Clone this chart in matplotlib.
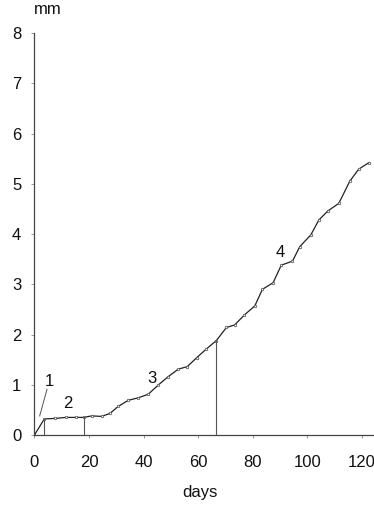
import matplotlib
matplotlib.use("Agg")
import matplotlib.pyplot as plt

plt.rcParams["font.family"] = ["Liberation Sans", "DejaVu Sans"]

# growth measurements (mm) against time (days)
days = [0, 3.6, 7.5, 11.5, 15.3, 18.0, 21.0, 24.6, 27.7, 30.7, 34.4, 38.0,
        41.7, 45.3, 49.0, 52.7, 56.0, 59.5, 63.0, 66.7, 70.4, 73.4, 77.0,
        80.8, 83.6, 87.5, 90.5, 94.6, 97.3, 101.3, 104.3, 107.6, 111.6,
        115.6, 118.9, 122.6]
mm = [0, 0.32, 0.33, 0.35, 0.35, 0.35, 0.38, 0.37, 0.43, 0.57, 0.69, 0.74,
      0.81, 0.99, 1.16, 1.31, 1.36, 1.54, 1.71, 1.88, 2.14, 2.19, 2.39,
      2.57, 2.90, 3.03, 3.38, 3.46, 3.75, 3.98, 4.28, 4.46, 4.61,
      5.05, 5.29, 5.42]

# phase boundaries (index into the series)
boundaries = [1, 5, 19]

phase_labels = ["1", "2", "3", "4"]
phase_pos = [(5.4, 1.06), (12.4, 0.62), (43.0, 1.13), (90.0, 3.63)]

yticks = [0, 1, 2, 3, 4, 5, 6, 7, 8]
xticks = [0, 20, 40, 60, 80, 100, 120]

fig = plt.figure(figsize=(3.74, 5.08), dpi=100)
ax = fig.add_axes([0.0922, 0.1437, 0.9078, 0.7913])

ax.plot(days, mm, color="#222222", lw=0.9, marker="o", ms=1.8,
        mfc="white", mec="#444444", mew=0.5)

for i in boundaries:
    ax.plot([days[i], days[i]], [0, mm[i]], color="#555555", lw=0.8)

# leader line for phase 1
ax.plot([1.9, 4.6], [0.38, 0.91], color="#555555", lw=0.7)

for lab, (x, y) in zip(phase_labels, phase_pos):
    ax.text(x, y, lab, fontsize=12, ha="center", va="center", color="#111111")

ax.set_xlim(0, 124.5)
ax.set_ylim(0, 8)
ax.set_xticks(xticks)
ax.set_yticks(yticks)
ax.tick_params(labelsize=12, length=2.5, width=0.6, color="#888888",
               labelcolor="#111111")
ax.tick_params(axis="x", pad=12)
ax.tick_params(axis="y", pad=7)

for side in ["top", "right"]:
    ax.spines[side].set_visible(False)
for side in ["left", "bottom"]:
    ax.spines[side].set_color("#444444")
    ax.spines[side].set_linewidth(0.9)

fig.text(48 / 374, 1 - 10 / 508, "mm", fontsize=12, ha="center", va="center",
         color="#111111")
fig.text(200 / 374, 1 - 493 / 508, "days", fontsize=12, ha="center",
         va="center", color="#111111")

fig.savefig("out.png", dpi=100)
